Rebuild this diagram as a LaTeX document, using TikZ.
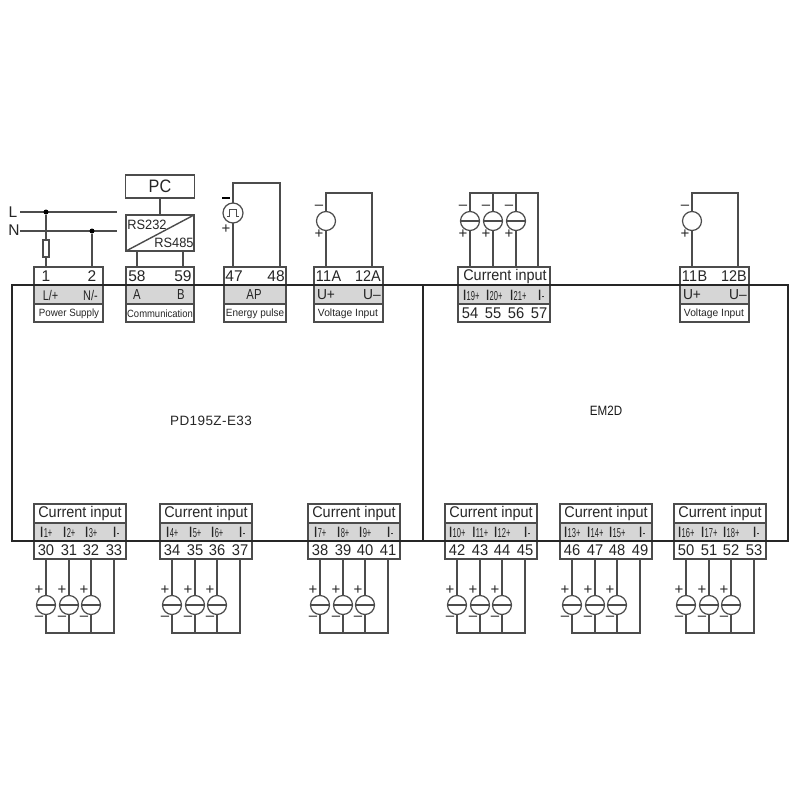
\documentclass[tikz,border=0pt]{standalone}
\usepackage{fontspec}
\setmainfont{Liberation Sans}
\newcommand{\fs}[1]{\fontsize{#1}{#1}\selectfont}
\definecolor{ink}{gray}{0.3}
\definecolor{band}{gray}{0.84}
\tikzset{
  wire/.style={draw=ink,line width=1.4pt},
  thin wire/.style={draw=ink,line width=1.1pt},
  frame/.style={draw=ink,line width=1.4pt,inner sep=0pt,outer sep=0pt,anchor=north west},
  bandbox/.style={fill=band,draw=none,inner sep=0pt,outer sep=0pt,anchor=north west},
  sep/.style={draw=ink,line width=1.4pt},
  txt/.style={inner sep=0pt,outer sep=0pt,text=black!85,font=\fs{15.5}},
  small/.style={inner sep=0pt,outer sep=0pt,text=black!85,font=\fs{10.5}},
  pol/.style={inner sep=0pt,outer sep=0pt,text=black!85,font=\fs{15}},
  src/.style={circle,draw=ink,line width=1.2pt,fill=white,minimum size=19pt,inner sep=0pt,outer sep=0pt},
  dot/.style={circle,fill=black,minimum size=5pt,inner sep=0pt,outer sep=0pt},
}
\newcommand{\TopBlock}[3]{%
  \node[bandbox,minimum width=#3pt,minimum height=19pt] (#1band) at (#2,285) {};
  \node[frame,minimum width=#3pt,minimum height=55pt] (#1) at (#2,267) {};
  \draw[sep] (#2,304) -- ++(#3,0);
}
\newcommand{\CurBlock}[2]{%
  \node[bandbox,minimum width=92pt,minimum height=18pt] (#1band) at (#2,523) {};
  \node[frame,minimum width=92pt,minimum height=55pt] (#1) at (#2,504) {};
  \draw[sep] (#2,523) -- ++(92,0);
  \node[txt] (#1title) at (#2+46,513.5) {\scalebox{0.93}[1]{Current input}};
}
\newcommand{\Ilabel}[1]{{\fs{15}I}\scalebox{0.58}[1]{\fs{13}#1}}
\newcommand{\Num}[1]{\scalebox{0.95}[1]{#1}}
\newcommand{\Bottom}[4]{%
  \CurBlock{#1}{#2}
  \pgfmathtruncatemacro{\na}{#3}\pgfmathtruncatemacro{\nb}{#3+1}\pgfmathtruncatemacro{\nc}{#3+2}\pgfmathtruncatemacro{\nd}{#3+3}
  \pgfmathtruncatemacro{\ia}{#4}\pgfmathtruncatemacro{\ib}{#4+1}\pgfmathtruncatemacro{\ic}{#4+2}
  \node[txt] (t\na) at (#2+12,550) {\Num{\na}};
  \node[txt] (t\nb) at (#2+35,550) {\Num{\nb}};
  \node[txt] (t\nc) at (#2+57,550) {\Num{\nc}};
  \node[txt] (t\nd) at (#2+80,550) {\Num{\nd}};
  \node[small] (l\na) at (#2+12,532) {\Ilabel{\ia+}};
  \node[small] (l\nb) at (#2+35,532) {\Ilabel{\ib+}};
  \node[small] (l\nc) at (#2+57,532) {\Ilabel{\ic+}};
  \node[small] (l\nd) at (#2+82,532) {\Ilabel{-}};
  \coordinate (e\na) at (#2+12,633);
  \coordinate (e\nd) at (#2+80,633);
  \draw[wire] (#1.south -| e\nd) -- (e\nd) -- (e\na) -- (#1.south -| e\na);
  \foreach \k/\dx in {\na/12,\nb/35,\nc/57}{
    \coordinate (e\k) at (#2+\dx,633);
    \draw[wire] (#1.south -| e\k) -- (e\k);
    \node[src] (s\k) at (#2+\dx,605) {};
    \draw[thin wire] (s\k.west) -- (s\k.east);
    \node[pol] (p\k) at (#2+\dx-7,590.5) {+};
    \node[pol] (m\k) at (#2+\dx-7,618) {–};
  }
}
\begin{document}
\begin{tikzpicture}[x=1pt,y=-1pt]
\useasboundingbox (0,0) rectangle (800,800);
\fill[white] (0,0) rectangle (800,800);

\TopBlock{pow}{34}{69}
\TopBlock{com}{126}{68}
\TopBlock{ene}{224}{62}
\TopBlock{vola}{314}{69}
\TopBlock{cur}{458}{92}
\TopBlock{volb}{680}{69}

\Bottom{ba}{34}{30}{1}
\Bottom{bb}{160}{34}{4}
\Bottom{bc}{308}{38}{7}
\Bottom{bd}{445}{42}{10}
\Bottom{be}{560}{46}{13}
\Bottom{bf}{674}{50}{16}

\node[draw=black!85,line width=1.1pt,inner sep=0pt,outer sep=0pt,anchor=north west,minimum width=776pt,minimum height=256pt] (dev) at (12,285) {};
\draw[draw=black!85,line width=1.2pt] (423,285) coordinate (dt) -- (423,541) coordinate (db);
\node[inner sep=0pt,font=\fs{13.5},text=black!85] (name1) at (211,421) {\addfontfeature{LetterSpace=3}PD195Z-E33};
\node[inner sep=0pt,font=\fs{13.5},text=black!90] (name2) at (606,411) {\scalebox{0.86}[1]{EM2D}};

% power supply
\node[txt] (n1) at (46,276) {1};
\node[txt] (n2) at (92,276) {2};
\node[txt,font=\fs{14}] (lp) at (50.5,295) {\scalebox{0.78}[1]{L/+}};
\node[txt,font=\fs{14}] (ln) at (90.5,295) {\scalebox{0.78}[1]{N/-}};
\node[small] (psl) at (69,313.5) {\scalebox{0.93}[1]{Power Supply}};
\node[inner sep=0pt,font=\fs{15.5},text=black!85] (Ltxt) at (13,212) {L};
\node[inner sep=0pt,font=\fs{15.5},text=black!85] (Ntxt) at (14,230.5) {N};
\coordinate (Le) at (117,212);
\coordinate (Ne) at (117,231);
\draw[wire] (20,212) coordinate (Ls) -- (Le);
\draw[wire] (20,231) coordinate (Ns) -- (Ne);
\node[dot] (d1) at (46,212) {};
\node[dot] (d2) at (92,231) {};
\node[draw=ink,line width=1.2pt,fill=white,minimum width=6pt,minimum height=17pt,inner sep=0pt,outer sep=0pt] (fuse) at (46,248.5) {};
\draw[wire] (d1) -- (fuse.north);
\draw[wire] (fuse.south) -- (fuse.south |- pow.north);
\draw[wire] (d2) -- (d2 |- pow.north);

% communication
\node[draw=ink,line width=1.4pt,minimum width=69pt,minimum height=23pt,inner sep=0pt,outer sep=0pt,font=\fs{18},text=black!85] (pc) at (160,186.5) {\scalebox{0.9}[1]{PC}};
\node[draw=ink,line width=1.4pt,minimum width=68pt,minimum height=36pt,inner sep=0pt,outer sep=0pt] (rs) at (160,233) {};
\draw[wire] (rs.south west) -- (rs.north east);
\node[txt,font=\fs{13.5}] (r1) at (147,224.5) {\scalebox{0.95}[1]{RS232}};
\node[txt,font=\fs{13.5}] (r2) at (174,242.5) {\scalebox{0.95}[1]{RS485}};
\draw[wire] (pc.south) -- (rs.north);
\node[txt] (n58) at (137,276) {58};
\node[txt] (n59) at (183,276) {59};
\draw[wire] (n58 |- rs.south) -- (n58 |- com.north);
\draw[wire] (n59 |- rs.south) -- (n59 |- com.north);
\node[txt,font=\fs{14.5}] (la) at (137,295) {\scalebox{0.78}[1]{A}};
\node[txt,font=\fs{14.5}] (lb) at (181,295) {\scalebox{0.78}[1]{B}};
\node[small] (cml) at (160,313.5) {\scalebox{0.9}[1]{Communication}};

% energy pulse
\node[src,minimum size=20pt] (pul) at (233,213) {};
\draw[thin wire] ([xshift=-6,yshift=-3.5]pul.center) -- ++(2.5,0) -- ++(0,-7) -- ++(7,0) -- ++(0,7) -- ++(2.5,0);
\coordinate (pa) at (233,183);
\coordinate (pb) at (280,183);
\draw[wire] (pul.north) -- (pa) -- (pb) -- (pb |- ene.north);
\draw[wire] (pul.south) -- (pul.south |- ene.north);
\node[inner sep=0pt,fill=black,minimum width=8pt,minimum height=1.8pt] (pm) at (226,198) {};
\node[pol] (pp) at (226,229) {+};
\node[txt] (n47) at (234,276) {47};
\node[txt] (n48) at (276,276) {48};
\node[txt,font=\fs{14.5}] (lap) at (254,295) {\scalebox{0.78}[1]{AP}};
\node[small] (epl) at (255,314) {\scalebox{0.95}[1]{Energy pulse}};

% voltage A
\node[src] (va) at (326,221) {};
\coordinate (vat) at (326,193);
\coordinate (vbt) at (372,193);
\draw[wire] (va.north) -- (vat) -- (vbt) -- (vbt |- vola.north);
\draw[wire] (va.south) -- (va.south |- vola.north);
\node[pol] (vam) at (319,207) {–};
\node[pol] (vap) at (319,234.5) {+};
\node[txt] (n11a) at (328.5,276) {\addfontfeature{LetterSpace=3}\scalebox{0.93}[1]{11A}};
\node[txt] (n12a) at (368,276) {\scalebox{0.93}[1]{12A}};
\node[txt,font=\fs{14.5}] (ua) at (326,295) {\scalebox{0.95}[1]{U+}};
\node[txt,font=\fs{14.5}] (ub) at (372,295) {\scalebox{0.95}[1]{U–}};
\node[small] (val) at (348,313.5) {\scalebox{0.98}[1]{Voltage Input}};

% voltage B
\node[src] (vb) at (692,221) {};
\coordinate (vct) at (692,193);
\coordinate (vdt) at (738,193);
\draw[wire] (vb.north) -- (vct) -- (vdt) -- (vdt |- volb.north);
\draw[wire] (vb.south) -- (vb.south |- volb.north);
\node[pol] (vbm) at (685,207) {–};
\node[pol] (vbp) at (685,234.5) {+};
\node[txt] (n11b) at (694.5,276) {\addfontfeature{LetterSpace=3}\scalebox{0.93}[1]{11B}};
\node[txt] (n12b) at (734,276) {\scalebox{0.93}[1]{12B}};
\node[txt,font=\fs{14.5}] (uc) at (692,295) {\scalebox{0.95}[1]{U+}};
\node[txt,font=\fs{14.5}] (ud) at (738,295) {\scalebox{0.95}[1]{U–}};
\node[small] (vbl) at (714,313.5) {\scalebox{0.98}[1]{Voltage Input}};

% current 54..57
\node[txt] (curtitle) at (505,276) {\scalebox{0.93}[1]{Current input}};
\node[small] (l54) at (471,295) {\Ilabel{19+}};
\node[small] (l55) at (494,295) {\Ilabel{20+}};
\node[small] (l56) at (518,295) {\Ilabel{21+}};
\node[small] (l57) at (541,295) {\Ilabel{-}};
\node[txt] (t54) at (470,313.5) {\Num{54}};
\node[txt] (t55) at (493,313.5) {\Num{55}};
\node[txt] (t56) at (516,313.5) {\Num{56}};
\node[txt] (t57) at (539,313.5) {\Num{57}};
\coordinate (ct1) at (470,193);
\coordinate (ct4) at (538,193);
\draw[wire] (ct1 |- cur.north) -- (ct1) -- (ct4) -- (ct4 |- cur.north);
\foreach \k/\x in {54/470,55/493,56/516}{
  \coordinate (ct\k) at (\x,193);
  \draw[wire] (ct\k) -- (ct\k |- cur.north);
  \node[src] (s\k) at (\x,221) {};
  \draw[thin wire] (s\k.west) -- (s\k.east);
  \node[pol] (m\k) at (\x-7,207) {–};
  \node[pol] (p\k) at (\x-7,234.5) {+};
}
\end{tikzpicture}
\end{document}
